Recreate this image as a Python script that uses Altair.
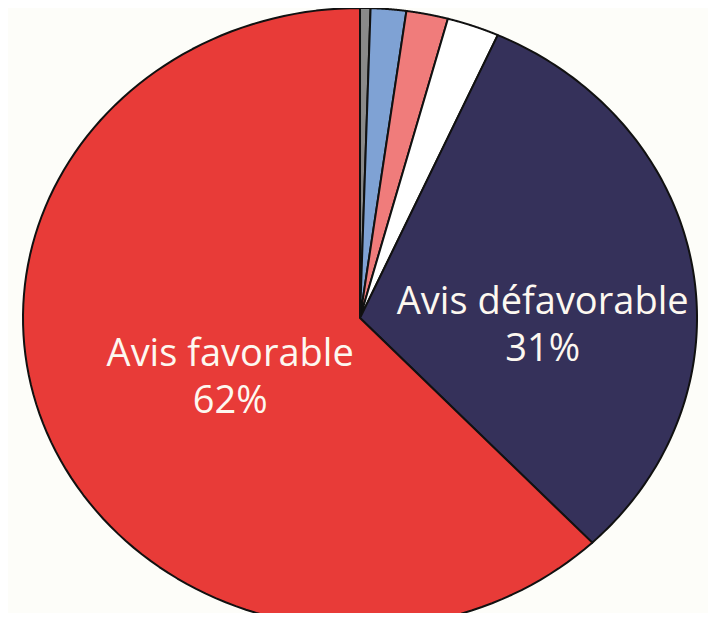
import altair as alt
import pandas as pd

# Slices, clockwise from 12 o'clock
categories = ["Autre", "Sans avis", "Avis réservé", "Non exprimé", "Avis défavorable", "Avis favorable"]
values = [0.5, 1.7, 2.0, 2.5, 31.2, 62.1]
colors = ["#8a8a8a", "#7fa2d4", "#f07c7b", "#ffffff", "#35315a", "#e83b38"]

df = pd.DataFrame({"cat": categories, "value": values, "idx": list(range(len(categories)))})

N = 120  # arc resolution

xs = alt.Scale(domain=[-1.0445, 1.0326], nice=False, zero=False)
ys = alt.Scale(domain=[-0.9516, 1.0], nice=False, zero=False)

base = (
    alt.Chart(df)
    .transform_window(cum="sum(value)", sort=[alt.SortField("idx")], frame=[None, 0])
    .transform_joinaggregate(total="sum(value)")
    .transform_calculate(
        a0="2*PI*(datum.cum - datum.value)/datum.total",
        a1="2*PI*datum.cum/datum.total",
    )
)

slices = (
    base.transform_calculate(seq=f"sequence(0, {N + 2})")
    .transform_flatten(["seq"])
    .transform_calculate(t=f"datum.a0 + (datum.a1 - datum.a0)*(datum.seq - 1)/{N}")
    .transform_calculate(
        px="datum.seq == 0 ? 0 : sin(datum.t)",
        py="datum.seq == 0 ? 0 : cos(datum.t)",
    )
    .mark_line(interpolate="linear-closed", stroke="#111111", strokeWidth=2,
               strokeJoin="round", clip=True)
    .encode(
        x=alt.X("px:Q", scale=xs, axis=None),
        y=alt.Y("py:Q", scale=ys, axis=None),
        detail="cat:N",
        order="seq:Q",
        fill=alt.Fill("cat:N", scale=alt.Scale(domain=categories, range=colors), legend=None),
    )
)

def label_layer(name, r, dx, dy):
    return (
        base.transform_filter(alt.datum.cat == name)
        .transform_calculate(
            mid="(datum.a0 + datum.a1)/2",
            txt="datum.cat + '\\n' + format(datum.value, '.0f') + '%'",
        )
        .transform_calculate(lx=f"sin(datum.mid)*{r}", ly=f"cos(datum.mid)*{r}")
        .mark_text(font="Open Sans", fontSize=38, color="#fdf8f0", align="center",
                   baseline="middle", lineBreak="\n", lineHeight=47, dx=dx, dy=dy)
        .encode(
            x=alt.X("lx:Q", scale=xs, axis=None),
            y=alt.Y("ly:Q", scale=ys, axis=None),
            text="txt:N",
        )
    )

chart = (
    alt.layer(
        slices,
        label_layer("Avis favorable", 0.45, 11, -15),
        label_layer("Avis défavorable", 0.55, 0, 14),
    )
    .properties(width=700, height=605, padding=0, autosize=alt.AutoSizeParams(type="none"),
                background="#fdfdf9")
    .configure_view(stroke=None)
)

chart.save("out.html", embed_options={"renderer": "svg", "actions": False})
